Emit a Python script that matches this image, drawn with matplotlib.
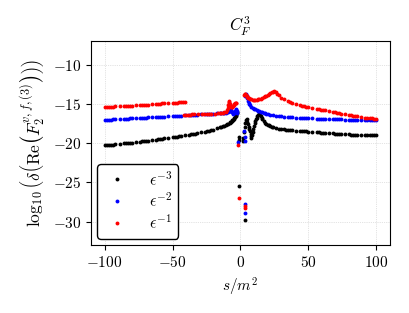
import numpy as np
import matplotlib
matplotlib.use("Agg")
import matplotlib.pyplot as plt
from matplotlib.ticker import FuncFormatter

plt.rcParams['mathtext.fontset'] = 'cm'
plt.rcParams['font.family'] = 'serif'
plt.rcParams['font.serif'] = ['DejaVu Serif']

# ---- data (s/m^2, log10 of error) ----
# eps^-3 (black)
k_left_x = [-100, -98.5, -97, -95.5, -94, -92.5, -89, -86, -84.5, -83, -81.5, -80,
            -77, -74, -72.5, -71, -69.5, -68, -65, -62, -60.5, -59, -57.5, -56,
            -53, -50, -48.5, -47, -45.5, -44, -41, -38, -36.5, -35, -33.5, -32,
            -29, -26, -24.5, -23, -21.5, -20, -17, -15, -14, -13, -12, -11, -10,
            -9, -8, -7.5, -7, -6.5, -6, -5.5, -5, -4.5, -4, -3.6, -3.3, -3, -2.7, -2.5]
k_left_y = [-20.3, -20.28, -20.25, -20.22, -20.2, -20.17, -20.1, -20.05, -20.02, -20.0, -19.97, -19.95,
            -19.88, -19.82, -19.79, -19.76, -19.73, -19.7, -19.63, -19.56, -19.52, -19.49, -19.45, -19.42,
            -19.34, -19.26, -19.22, -19.18, -19.14, -19.1, -19.02, -18.93, -18.88, -18.84, -18.79, -18.74,
            -18.64, -18.53, -18.47, -18.41, -18.35, -18.28, -18.13, -18.02, -17.95, -17.88, -17.8, -17.72, -17.63,
            -17.53, -17.42, -17.35, -17.28, -17.2, -17.11, -17.01, -16.9, -16.78, -16.64, -16.5, -16.38, -16.25, -16.12, -16.0]
k_mid_x = [-1.2, -1.2, -1.2, 1.5, 2.0, 2.5, 3.0, 3.2, 3.5, 4.0, 4.5, 5.0, 5.5, 6.0, 6.5, 7.0,
           7.5, 8.0, 8.5, 8.0, 9.0, 9.5, 10.0, 10.5, 11.0, 11.5, 12.0, 12.5, 13.0, 13.5, 14.0, 14.5]
k_mid_y = [-19.2, -19.6, -25.5, -19.8, -19.4, -18.6, -18.0, -29.85, -17.5, -17.1, -17.0, -17.3, -17.6, -17.9, -18.2, -18.5,
           -18.8, -19.1, -19.0, -19.4, -18.6, -18.2, -17.8, -17.5, -17.2, -17.0, -16.8, -16.6, -16.45, -16.35, -16.3, -16.4]
k_right_x = [15, 15.5, 16, 17, 18, 19, 20, 21, 22, 23, 24, 26, 28, 30, 32, 33.5, 35, 36.5, 38,
             41, 44, 45.5, 47, 48.5, 50, 53, 56, 57.5, 59, 60.5, 62, 65, 68, 69.5, 71, 72.5, 74,
             77, 80, 81.5, 83, 84.5, 86, 89, 92, 93.5, 95, 96.5, 98, 100]
k_right_y = [-16.6, -16.8, -17.0, -17.2, -17.4, -17.55, -17.65, -17.75, -17.85, -17.92, -18.0, -18.1, -18.17, -18.22, -18.27, -18.3, -18.33, -18.36, -18.38,
             -18.42, -18.46, -18.48, -18.5, -18.52, -18.54, -18.58, -18.62, -18.64, -18.66, -18.68, -18.7, -18.73, -18.77, -18.79, -18.81, -18.83, -18.85,
             -18.88, -18.91, -18.92, -18.93, -18.94, -18.95, -18.97, -18.99, -19.0, -19.0, -19.01, -19.02, -19.03]

# eps^-2 (blue)
b_left_x = [-100, -98.5, -97, -95.5, -94, -92.5, -89, -86, -84.5, -83, -81.5, -80,
            -77, -74, -72.5, -71, -69.5, -68, -65, -62, -60.5, -59, -57.5, -56,
            -53, -50, -48.5, -47, -45.5, -44, -41, -38, -36.5, -35, -33.5, -32,
            -29, -26, -24.5, -23, -21.5, -20, -17, -15, -14, -13, -12, -11, -10,
            -9, -8, -7.5, -7.2, -6.8, -6.4, -6, -5.6, -5.3, -5, -4.5, -4, -3.5, -3, -2.7, -2.5]
b_left_y = [-17.05, -17.04, -17.02, -17.01, -16.99, -16.98, -16.95, -16.92, -16.9, -16.89, -16.87, -16.86,
            -16.83, -16.8, -16.78, -16.77, -16.75, -16.74, -16.71, -16.68, -16.66, -16.65, -16.63, -16.62,
            -16.59, -16.56, -16.54, -16.53, -16.51, -16.5, -16.47, -16.44, -16.42, -16.41, -16.39, -16.38,
            -16.35, -16.32, -16.3, -16.29, -16.27, -16.26, -16.23, -16.2, -16.18, -16.17, -16.15, -16.13, -16.1,
            -16.05, -15.98, -15.9, -15.8, -15.9, -16.0, -16.1, -16.2, -16.3, -16.2, -16.05, -15.9, -15.75, -15.6, -15.9, -16.2]
b_mid_x = [-1.5, 2.5, 3.0, 3.2, 3.2, 3.5]
b_mid_y = [-19.9, -18.5, -19.2, -27.8, -28.9, -19.7]
b_right_x = [3.5, 4, 4.5, 5, 5.5, 6, 6.5, 7, 8, 9, 10, 11, 12, 13, 14, 15, 16, 17, 18, 19, 20,
             22, 24, 26, 28, 30, 32, 35, 36.5, 38, 41, 44, 45.5, 47, 48.5, 50, 53, 56, 57.5, 59,
             60.5, 62, 65, 68, 69.5, 71, 72.5, 74, 77, 80, 81.5, 83, 84.5, 86, 89, 92, 93.5, 95,
             96.5, 98, 100]
b_right_y = [-14.0, -13.8, -14.0, -14.3, -14.6, -14.85, -15.0, -15.15, -15.35, -15.5, -15.6, -15.7, -15.8, -15.9, -15.97, -16.05, -16.1, -16.17, -16.22, -16.27, -16.3,
             -16.38, -16.44, -16.5, -16.55, -16.6, -16.63, -16.67, -16.69, -16.71, -16.75, -16.79, -16.8, -16.82, -16.84, -16.85, -16.87, -16.89, -16.9, -16.91,
             -16.92, -16.93, -16.95, -16.96, -16.97, -16.98, -16.99, -17.0, -17.01, -17.02, -17.02, -17.03, -17.03, -17.04, -17.05, -17.06, -17.06, -17.07,
             -17.07, -17.08, -17.08]

# eps^-1 (red)
r_left1_x = [-100, -98.5, -97, -95.5, -94, -92.5, -89, -86, -84.5, -83, -81.5, -80,
             -77, -74, -72.5, -71, -69.5, -68, -65, -62, -60.5, -59, -57.5, -56,
             -53, -50, -48.5, -47, -45.5, -44, -42, -41]
r_left1_y = [-15.4, -15.39, -15.38, -15.37, -15.35, -15.34, -15.31, -15.28, -15.27, -15.25, -15.24, -15.22,
             -15.19, -15.16, -15.14, -15.12, -15.11, -15.09, -15.06, -15.02, -15.0, -14.98, -14.96, -14.95,
             -14.91, -14.88, -14.86, -14.85, -14.83, -14.82, -14.8, -14.79]
r_left2_x = [-41.5, -40, -38.5, -37, -35.5, -34, -31, -28, -26.5, -25, -23.5, -22, -19, -16.5,
             -15, -14, -13, -12, -11, -10, -9.5, -9, -8.7, -8.5, -8.2, -8, -7.5, -7, -6.5,
             -6, -5.5, -5, -4.5, -4, -3.5, -3.2]
r_left2_y = [-16.4, -16.39, -16.38, -16.37, -16.36, -16.35, -16.33, -16.31, -16.3, -16.29, -16.28, -16.27, -16.25, -16.22,
             -16.2, -16.17, -16.15, -16.1, -16.0, -15.8, -15.5, -15.2, -14.9, -14.7, -14.8, -15.0, -15.2, -15.35, -15.4,
             -15.35, -15.25, -15.15, -15.05, -14.95, -14.9, -14.85]
r_mid_x = [-1.5, -1.2, 3.2, 3.2]
r_mid_y = [-20.2, -27.0, -28.05, -28.3]
r_right_x = [2.5, 3, 3.5, 4, 4.5, 5, 5.5, 6, 7, 8, 9, 10, 11, 12, 13, 14, 15, 16, 17, 18, 19, 20,
             21, 22, 23, 24, 25, 26, 27, 28, 30, 32, 35, 36.5, 38, 41, 44, 45.5, 47, 48.5, 50,
             53, 56, 57.5, 59, 60.5, 62, 65, 68, 69.5, 71, 72.5, 74, 77, 80, 81.5, 83, 84.5, 86,
             89, 92, 93.5, 95, 96.5, 98, 100]
r_right_y = [-13.9, -13.75, -13.8, -13.9, -14.0, -14.1, -14.2, -14.25, -14.35, -14.45, -14.5, -14.55, -14.55, -14.5, -14.45, -14.4, -14.35, -14.25, -14.15, -14.05, -13.95, -13.85,
             -13.75, -13.65, -13.55, -13.45, -13.38, -13.5, -13.7, -13.9, -14.2, -14.45, -14.7, -14.8, -14.9, -15.05, -15.2, -15.27, -15.33, -15.4, -15.45,
             -15.55, -15.65, -15.7, -15.75, -15.8, -15.85, -15.95, -16.05, -16.1, -16.15, -16.2, -16.25, -16.35, -16.42, -16.47, -16.52, -16.56, -16.6,
             -16.68, -16.75, -16.79, -16.82, -16.86, -16.9, -16.95]

labels = [r'$\epsilon^{-3}$', r'$\epsilon^{-2}$', r'$\epsilon^{-1}$']
colors = ['black', 'blue', 'red']

fig = plt.figure(figsize=(4.1, 3.13), dpi=100)
ax = fig.add_axes([0.222, 0.217, 0.729, 0.652])

series = [
    (k_left_x + k_mid_x + k_right_x, k_left_y + k_mid_y + k_right_y),
    (b_left_x + b_mid_x + b_right_x, b_left_y + b_mid_y + b_right_y),
    (r_left1_x + r_left2_x + r_mid_x + r_right_x, r_left1_y + r_left2_y + r_mid_y + r_right_y),
]
for (xs, ys), c, lab in zip(series, colors, labels):
    ax.plot(xs, ys, 'o', color=c, ms=2.8, mew=0, label=lab)

ax.set_xlim(-110, 110)
ax.set_ylim(-33, -7)
ax.set_xticks([-100, -50, 0, 50, 100])
ax.set_yticks([-10, -15, -20, -25, -30])
fmt = FuncFormatter(lambda v, p: r'$%d$' % v)
ax.xaxis.set_major_formatter(fmt)
ax.yaxis.set_major_formatter(fmt)
ax.tick_params(labelsize=11)
ax.grid(True, color='#c8c8c8', lw=0.5, ls=':')

ax.set_title(r'$C_F^3$', fontsize=12, pad=7)
ax.set_xlabel(r'$s/m^2$', fontsize=11)
ax.set_ylabel(r'$\log_{10}\left(\delta\left(\mathrm{Re}\left(F_2^{v,f,(3)}\right)\right)\right)$', fontsize=12.5)

leg = ax.legend(loc='lower left', fontsize=11.5, framealpha=1, edgecolor='black',
                handlelength=1.6, handletextpad=1.2, labelspacing=0.25,
                markerscale=1.0, borderaxespad=0.4)
leg.get_frame().set_linewidth(1.0)

fig.savefig('out.png', dpi=100)
